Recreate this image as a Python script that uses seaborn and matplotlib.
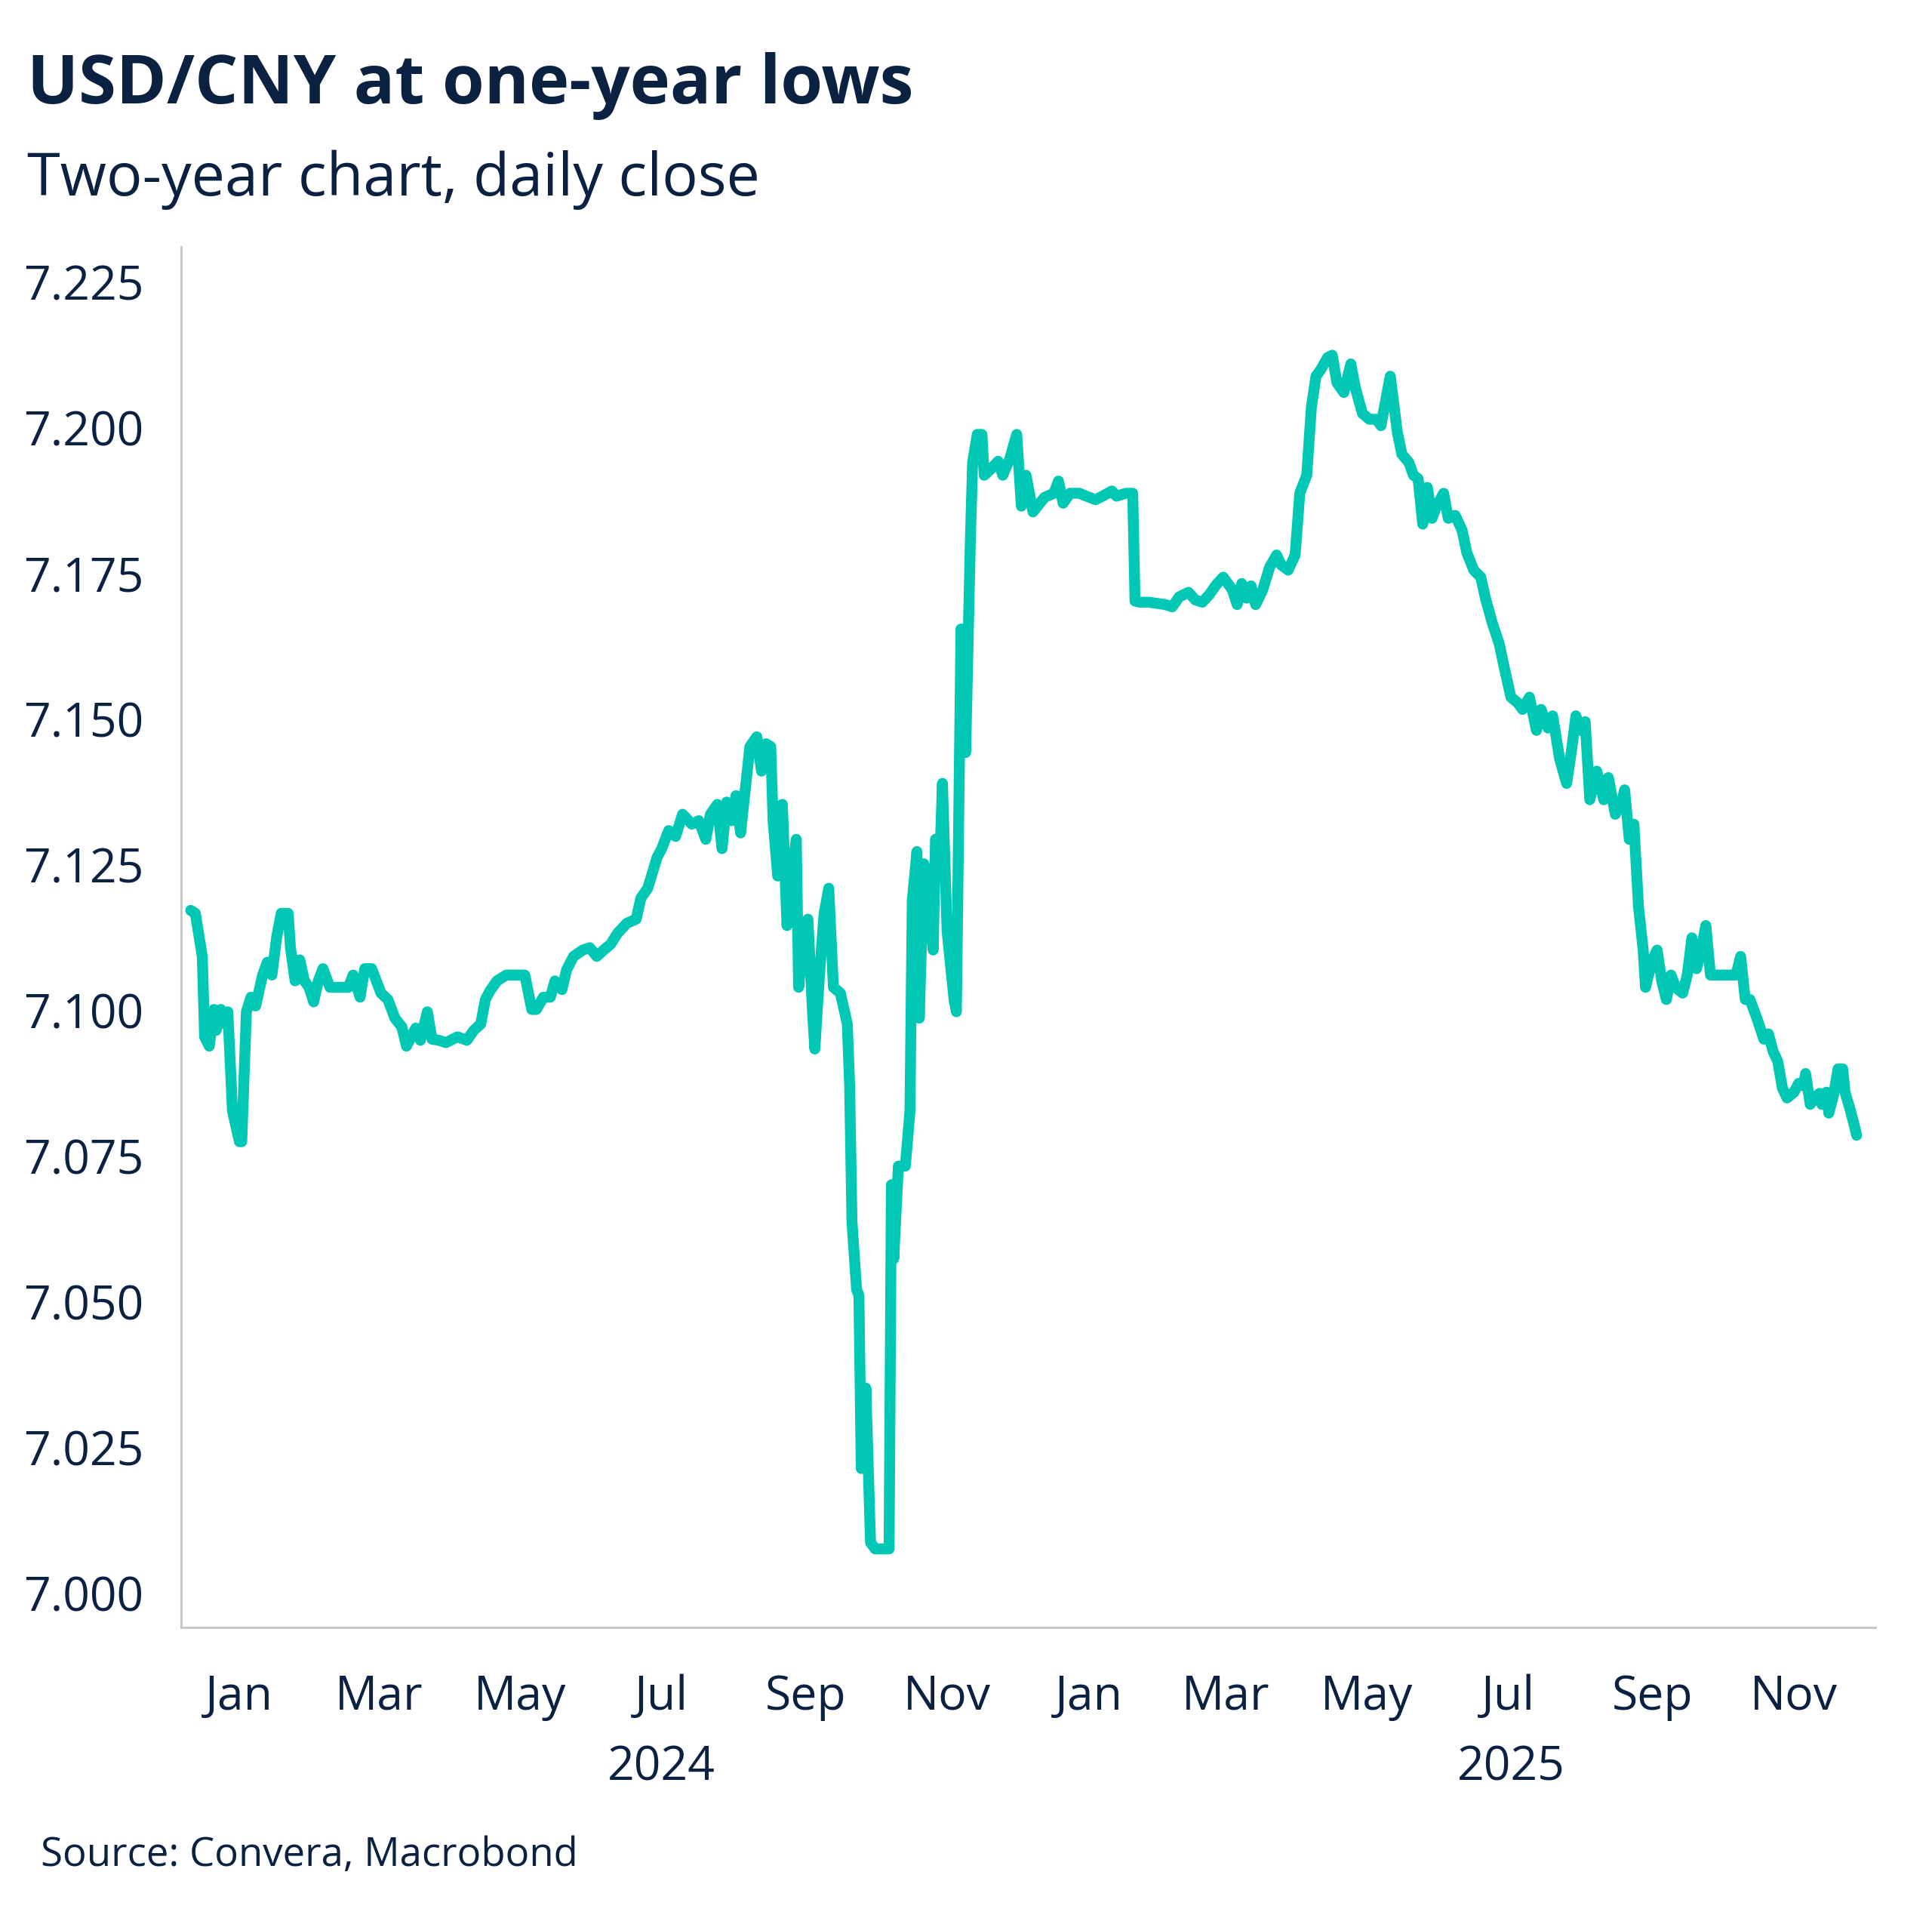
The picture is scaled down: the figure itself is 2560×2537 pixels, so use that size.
import pandas as pd
import seaborn as sns
import matplotlib.pyplot as plt
import matplotlib.dates as mdates
from matplotlib.transforms import blended_transform_factory

# USD/CNY daily close
dates = [
    "2023-12-11", "2023-12-13", "2023-12-16", "2023-12-17", "2023-12-19", "2023-12-21", "2023-12-22",
    "2023-12-24", "2023-12-26", "2023-12-27", "2023-12-29", "2024-01-01", "2024-01-02", "2024-01-04",
    "2024-01-06", "2024-01-08", "2024-01-11", "2024-01-13", "2024-01-15", "2024-01-17", "2024-01-19",
    "2024-01-22", "2024-01-23", "2024-01-25", "2024-01-27", "2024-01-29", "2024-01-31", "2024-02-02",
    "2024-02-04", "2024-02-06", "2024-02-09", "2024-02-13", "2024-02-17", "2024-02-19", "2024-02-22",
    "2024-02-24", "2024-02-27", "2024-02-29", "2024-03-02", "2024-03-05", "2024-03-08", "2024-03-11",
    "2024-03-13", "2024-03-17", "2024-03-19", "2024-03-22", "2024-03-24", "2024-03-27", "2024-03-30",
    "2024-04-04", "2024-04-08", "2024-04-11", "2024-04-14", "2024-04-16", "2024-04-18", "2024-04-21",
    "2024-04-25", "2024-04-29", "2024-05-03", "2024-05-06", "2024-05-08", "2024-05-11", "2024-05-14",
    "2024-05-16", "2024-05-19", "2024-05-21", "2024-05-24", "2024-05-28", "2024-05-31", "2024-06-03",
    "2024-06-06", "2024-06-09", "2024-06-12", "2024-06-16", "2024-06-20", "2024-06-22", "2024-06-25",
    "2024-06-29", "2024-07-01", "2024-07-04", "2024-07-07", "2024-07-10", "2024-07-14", "2024-07-17",
    "2024-07-20", "2024-07-22", "2024-07-25", "2024-07-27", "2024-07-29", "2024-07-31", "2024-08-02",
    "2024-08-04", "2024-08-06", "2024-08-08", "2024-08-11", "2024-08-13", "2024-08-15", "2024-08-17",
    "2024-08-18", "2024-08-20", "2024-08-22", "2024-08-24", "2024-08-26", "2024-08-28", "2024-08-29",
    "2024-08-31", "2024-09-02", "2024-09-04", "2024-09-05", "2024-09-07", "2024-09-09", "2024-09-11",
    "2024-09-13", "2024-09-16", "2024-09-19", "2024-09-20", "2024-09-21", "2024-09-23", "2024-09-24",
    "2024-09-25", "2024-09-27", "2024-09-29", "2024-10-01", "2024-10-05", "2024-10-07", "2024-10-08",
    "2024-10-09", "2024-10-11", "2024-10-14", "2024-10-16", "2024-10-17", "2024-10-19", "2024-10-20",
    "2024-10-22", "2024-10-24", "2024-10-26", "2024-10-27", "2024-10-29", "2024-10-30", "2024-11-01",
    "2024-11-04", "2024-11-05", "2024-11-07", "2024-11-09", "2024-11-11", "2024-11-12", "2024-11-14",
    "2024-11-16", "2024-11-17", "2024-11-20", "2024-11-23", "2024-11-25", "2024-11-28", "2024-12-01",
    "2024-12-03", "2024-12-05", "2024-12-08", "2024-12-10", "2024-12-13", "2024-12-17", "2024-12-19",
    "2024-12-21", "2024-12-24", "2024-12-28", "2024-12-31", "2025-01-04", "2025-01-07", "2025-01-11",
    "2025-01-13", "2025-01-17", "2025-01-20", "2025-01-21", "2025-01-23", "2025-01-27", "2025-02-03",
    "2025-02-06", "2025-02-09", "2025-02-13", "2025-02-16", "2025-02-19", "2025-02-22", "2025-02-25",
    "2025-02-28", "2025-03-04", "2025-03-06", "2025-03-08", "2025-03-10", "2025-03-12", "2025-03-14",
    "2025-03-17", "2025-03-20", "2025-03-23", "2025-03-25", "2025-03-28", "2025-03-31", "2025-04-02",
    "2025-04-05", "2025-04-07", "2025-04-09", "2025-04-11", "2025-04-14", "2025-04-16", "2025-04-18",
    "2025-04-21", "2025-04-24", "2025-04-26", "2025-04-29", "2025-05-02", "2025-05-05", "2025-05-07",
    "2025-05-09", "2025-05-11", "2025-05-12", "2025-05-14", "2025-05-16", "2025-05-19", "2025-05-21",
    "2025-05-23", "2025-05-25", "2025-05-27", "2025-05-29", "2025-05-31", "2025-06-03", "2025-06-05",
    "2025-06-08", "2025-06-11", "2025-06-13", "2025-06-16", "2025-06-19", "2025-06-21", "2025-06-24",
    "2025-06-27", "2025-06-29", "2025-07-02", "2025-07-05", "2025-07-07", "2025-07-10", "2025-07-13",
    "2025-07-15", "2025-07-18", "2025-07-20", "2025-07-23", "2025-07-26", "2025-07-28", "2025-07-30",
    "2025-08-01", "2025-08-03", "2025-08-05", "2025-08-08", "2025-08-11", "2025-08-13", "2025-08-16",
    "2025-08-19", "2025-08-20", "2025-08-22", "2025-08-24", "2025-08-26", "2025-08-28", "2025-08-29",
    "2025-09-01", "2025-09-03", "2025-09-05", "2025-09-07", "2025-09-09", "2025-09-11", "2025-09-14",
    "2025-09-16", "2025-09-18", "2025-09-20", "2025-09-22", "2025-09-24", "2025-09-26", "2025-09-30",
    "2025-10-04", "2025-10-07", "2025-10-09", "2025-10-11", "2025-10-13", "2025-10-16", "2025-10-19",
    "2025-10-21", "2025-10-23", "2025-10-25", "2025-10-27", "2025-10-29", "2025-11-01", "2025-11-03",
    "2025-11-05", "2025-11-06", "2025-11-08", "2025-11-10", "2025-11-12", "2025-11-13", "2025-11-15",
    "2025-11-16", "2025-11-18", "2025-11-20", "2025-11-22", "2025-11-23", "2025-11-25", "2025-11-27",
    "2025-11-28",
]

usdcny = [
    7.1172, 7.1167, 7.1093, 7.0955, 7.0939, 7.1002, 7.0966,
    7.1002, 7.0977, 7.0998, 7.0828, 7.0775, 7.0775, 7.0998,
    7.1023, 7.1008, 7.1061, 7.1083, 7.1061, 7.1125, 7.1167,
    7.1167, 7.1108, 7.1051, 7.1087, 7.1051, 7.1040, 7.1015,
    7.1051, 7.1072, 7.1040, 7.1040, 7.1040, 7.1061, 7.1023,
    7.1072, 7.1072, 7.1051, 7.1030, 7.1019, 7.0987, 7.0972,
    7.0939, 7.0970, 7.0949, 7.0998, 7.0951, 7.0949, 7.0945,
    7.0955, 7.0949, 7.0966, 7.0977, 7.1019, 7.1034, 7.1051,
    7.1061, 7.1061, 7.1061, 7.1002, 7.1002, 7.1023, 7.1023,
    7.1051, 7.1036, 7.1070, 7.1093, 7.1104, 7.1108, 7.1093,
    7.1104, 7.1114, 7.1133, 7.1150, 7.1157, 7.1193, 7.1210,
    7.1263, 7.1278, 7.1309, 7.1299, 7.1337, 7.1320, 7.1326,
    7.1294, 7.1337, 7.1354, 7.1278, 7.1358, 7.1326, 7.1369,
    7.1305, 7.1379, 7.1453, 7.1470, 7.1411, 7.1458, 7.1453,
    7.1326, 7.1231, 7.1354, 7.1146, 7.1231, 7.1294, 7.1040,
    7.1125, 7.1157, 7.0998, 7.0934, 7.1061, 7.1167, 7.1210,
    7.1040, 7.1030, 7.0977, 7.0871, 7.0638, 7.0521, 7.0511,
    7.0214, 7.0352, 7.0087, 7.0076, 7.0076, 7.0076, 7.0701,
    7.0574, 7.0733, 7.0733, 7.0828, 7.1189, 7.1273, 7.0987,
    7.1252, 7.1189, 7.1104, 7.1294, 7.1273, 7.1390, 7.1136,
    7.1019, 7.0998, 7.1655, 7.1443, 7.1803, 7.1941, 7.1989,
    7.1989, 7.1919, 7.1930, 7.1943, 7.1919, 7.1947, 7.1989,
    7.1866, 7.1919, 7.1856, 7.1866, 7.1881, 7.1888, 7.1909,
    7.1871, 7.1888, 7.1888, 7.1883, 7.1877, 7.1883, 7.1892,
    7.1883, 7.1888, 7.1888, 7.1703, 7.1701, 7.1701, 7.1697,
    7.1693, 7.1710, 7.1718, 7.1705, 7.1701, 7.1714, 7.1731,
    7.1744, 7.1722, 7.1697, 7.1733, 7.1708, 7.1729, 7.1697,
    7.1722, 7.1761, 7.1782, 7.1765, 7.1756, 7.1782, 7.1888,
    7.1919, 7.2036, 7.2089, 7.2100, 7.2121, 7.2125, 7.2078,
    7.2061, 7.2110, 7.2068, 7.2025, 7.2015, 7.2015, 7.2004,
    7.2047, 7.2089, 7.2057, 7.1994, 7.1955, 7.1941, 7.1919,
    7.1913, 7.1835, 7.1898, 7.1845, 7.1866, 7.1888, 7.1845,
    7.1850, 7.1824, 7.1786, 7.1756, 7.1744, 7.1708, 7.1665,
    7.1629, 7.1591, 7.1538, 7.1528, 7.1517, 7.1538, 7.1481,
    7.1517, 7.1485, 7.1506, 7.1432, 7.1390, 7.1443, 7.1506,
    7.1481, 7.1496, 7.1362, 7.1411, 7.1362, 7.1400, 7.1337,
    7.1362, 7.1379, 7.1294, 7.1320, 7.1178, 7.1104, 7.1040,
    7.1087, 7.1104, 7.1051, 7.1019, 7.1061, 7.1040, 7.1030,
    7.1061, 7.1125, 7.1072, 7.1104, 7.1146, 7.1061, 7.1061,
    7.1061, 7.1061, 7.1093, 7.1019, 7.1019, 7.0987, 7.0951,
    7.0960, 7.0930, 7.0913, 7.0867, 7.0850, 7.0860, 7.0875,
    7.0871, 7.0892, 7.0839, 7.0850, 7.0858, 7.0839, 7.0860,
    7.0824, 7.0854, 7.0900, 7.0900, 7.0860, 7.0833, 7.0803,
    7.0786,
]

year_labels = ["2024", "2025"]
year_label_dates = ["2024-07-01", "2025-07-02"]

navy = "#0B2142"
teal = "#00C8B4"

df = pd.DataFrame({"date": pd.to_datetime(dates), "rate": usdcny})

sns.set_theme(style="white")
plt.rcParams["font.family"] = ["Open Sans", "DejaVu Sans"]

fig = plt.figure(figsize=(12.8, 12.685), dpi=200)
ax = fig.add_axes([0.0939, 0.1501, 0.8767, 0.7210])

sns.lineplot(data=df, x="date", y="rate", color=teal, linewidth=5.2, ax=ax)

ax.set_xlim(pd.Timestamp("2023-12-07"), pd.Timestamp("2025-12-06"))
ax.set_ylim(6.9941, 7.2311)
ax.set_yticks([7.0 + 0.025 * i for i in range(10)])
ax.yaxis.set_major_formatter(plt.FormatStrFormatter("%.3f"))
ax.xaxis.set_major_locator(mdates.MonthLocator(bymonth=[1, 3, 5, 7, 9, 11]))
ax.xaxis.set_major_formatter(mdates.DateFormatter("%b"))
ax.set_xlabel("")
ax.set_ylabel("")

for side in ["top", "right"]:
    ax.spines[side].set_visible(False)
for side in ["left", "bottom"]:
    ax.spines[side].set_color("#C4C4C4")
    ax.spines[side].set_linewidth(1.0)

ax.tick_params(axis="both", which="major", labelsize=22.5, labelcolor=navy,
               color="#444444", width=1.2, direction="out")
ax.tick_params(axis="y", length=8, pad=10)
ax.tick_params(axis="x", length=6, pad=16)

# longer ticks at the start of each year
for tick, loc in zip(ax.xaxis.get_major_ticks(), ax.get_xticks()):
    if mdates.num2date(loc).month == 1:
        tick.tick1line.set_markersize(12)

trans = blended_transform_factory(ax.transData, ax.transAxes)
for lab, d in zip(year_labels, year_label_dates):
    ax.text(pd.Timestamp(d), -0.1016, lab, transform=trans, ha="center", va="center",
            fontsize=22.5, color=navy)

fig.text(0.014, 0.955, "USD/CNY at one-year lows", fontsize=32.5, fontweight="bold",
         color=navy, ha="left", va="center")
fig.text(0.014, 0.906, "Two-year chart, daily close", fontsize=28.5,
         color=navy, ha="left", va="center")
fig.text(0.021, 0.031, "Source: Convera, Macrobond", fontsize=19,
         color=navy, ha="left", va="center")

fig.savefig("out.png", dpi=200)
